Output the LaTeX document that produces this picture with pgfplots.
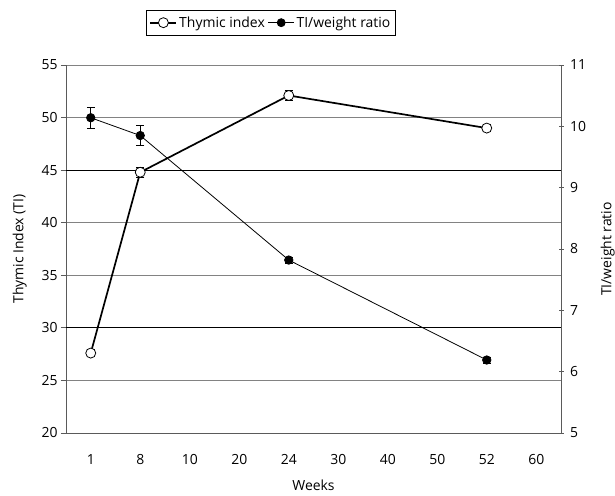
\documentclass[border=0pt]{standalone}
\usepackage{fontspec}
\setmainfont{Open Sans}
\usepackage{pgfplots}
\usepackage{pgfplotstable}
\pgfplotsset{compat=1.18}

% x = category index: 1,8,10,20,24,30,40,50,52,60 -> 0..9
\pgfplotstableread{
x   y     err
0   27.6  0.35
1   44.8  0.45
4   52.1  0.45
8   49.0  0.35
}\thymic
\pgfplotstableread{
x   y     err
0   10.14 0.17
1   9.85  0.16
4   7.82  0.05
8   6.19  0.05
}\ratio

\definecolor{axgray}{RGB}{90,90,90}
\definecolor{gridgray}{RGB}{130,130,130}

\begin{document}
\begin{tikzpicture}
\pgfplotsset{
  every axis/.append style={
    scale only axis, width=495bp, height=368bp,
    xmin=-0.5, xmax=9.5,
    font=\fontsize{14}{16}\selectfont,
    /pgf/number format/assume math mode=true,
    axis line style={axgray, line width=1pt},
    tick style={axgray, line width=0.8pt},
    major tick length=5bp,
    minor tick length=5bp,
  },
}
\begin{axis}[
  name=ax,
  axis x line*=bottom, axis y line*=left,
  ymin=20, ymax=55, ytick={20,25,...,55},
  ymajorgrids, grid style={gridgray, line width=0.8pt},
  extra y ticks={30,45}, extra y tick labels={},
  extra y tick style={grid style={black, line width=0.8pt}},
  tick align=outside,
  xtick={0,...,9},
  xticklabels={1,8,10,20,24,30,40,50,52,60},
  xtick style={draw=none},
  xticklabel style={yshift=-13bp},
  minor xtick={-0.5,0.5,...,9.5},
  xlabel={Weeks}, ylabel={Thymic Index (TI)},
  xlabel style={yshift=-8bp},
  ylabel style={yshift=-2bp},
  legend style={at={(0.414,1.115)}, anchor=center, draw=black,
    legend columns=2, font=\fontsize{14}{16}\selectfont,
    inner xsep=3bp, inner ysep=4bp,
    /tikz/every even column/.append style={column sep=1bp}},
  legend image code/.code={
    \draw[mark repeat=2,mark phase=2] plot coordinates {(0bp,0bp)(13bp,0bp)(26bp,0bp)};},
  clip=false,
]
\addplot[black, line width=1.7pt, mark=*, mark options={fill=white, line width=0.8pt}, mark size=5bp,
  error bars/.cd, y dir=both, y explicit,
  error bar style={black, line width=0.7pt},
  error mark options={black, line width=0.7pt, mark size=4bp, rotate=90}]
  table[x=x, y=y, y error=err] {\thymic};
\addlegendentry{Thymic index}
\addlegendimage{black, line width=0.8pt, mark=*, mark size=4bp}
\addlegendentry{TI/weight ratio}
\end{axis}
\begin{axis}[
  axis x line=none, axis y line*=right,
  ymin=5, ymax=11, ytick={5,...,11},
  tick align=center,
  yticklabel style={xshift=3bp},
  ylabel={TI/weight ratio},
  ylabel style={yshift=-8bp},
  clip=false,
]
\addplot[black, line width=0.8pt, mark=*, mark size=4.2bp,
  error bars/.cd, y dir=both, y explicit,
  error bar style={black, line width=0.7pt},
  error mark options={black, line width=0.7pt, mark size=4bp, rotate=90}]
  table[x=x, y=y, y error=err] {\ratio};
\end{axis}
\pgfresetboundingbox
\path[use as bounding box] ([xshift=-66bp,yshift=-63bp]ax.south west) rectangle ([xshift=54bp,yshift=65bp]ax.north east);
\end{tikzpicture}
\end{document}
